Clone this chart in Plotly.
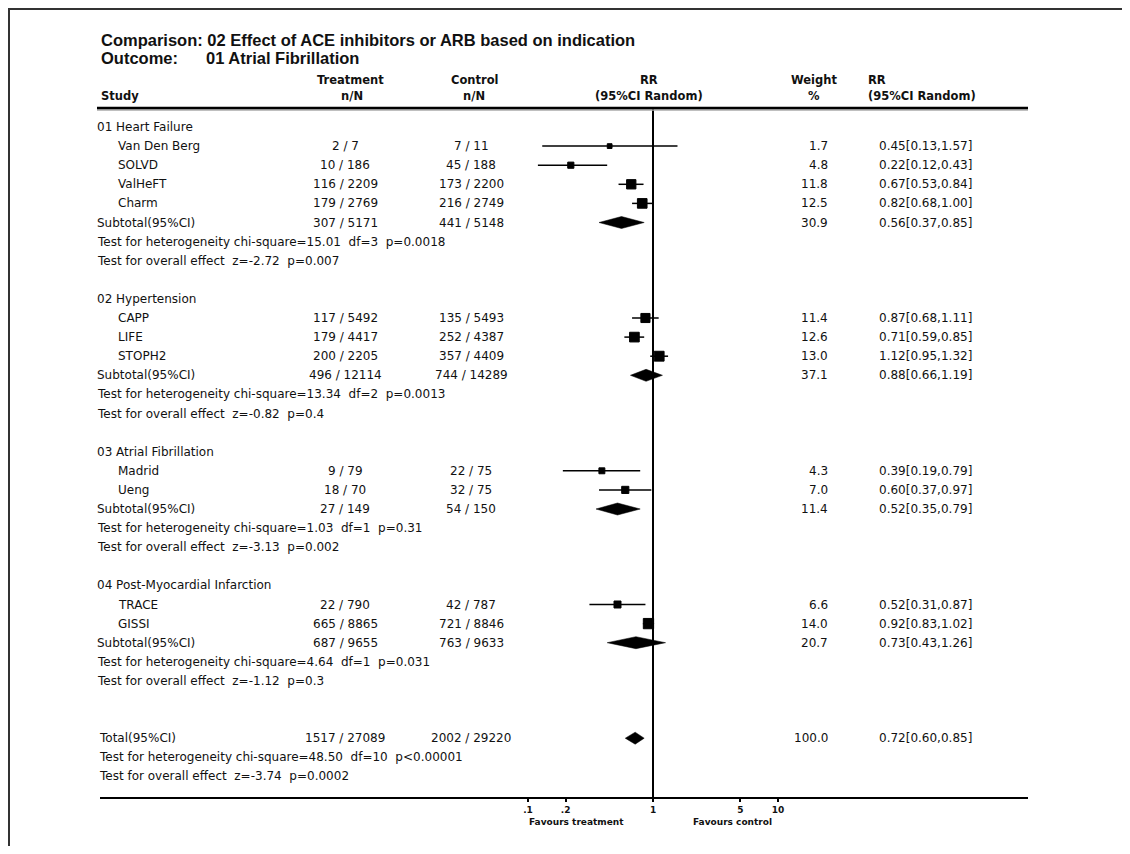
import math
import plotly.graph_objects as go

# ---------------- data ----------------
group_names = ["01 Heart Failure", "02 Hypertension", "03 Atrial Fibrillation",
               "04 Post-Myocardial Infarction"]

study_group = [0, 0, 0, 0, 1, 1, 1, 2, 2, 3, 3]
study_names = ["Van Den Berg", "SOLVD", "ValHeFT", "Charm", "CAPP", "LIFE", "STOPH2",
               "Madrid", "Ueng", "TRACE", "GISSI"]
treat_events = [2, 10, 116, 179, 117, 179, 200, 9, 18, 22, 665]
treat_total = [7, 186, 2209, 2769, 5492, 4417, 2205, 79, 70, 790, 8865]
ctrl_events = [7, 45, 173, 216, 135, 252, 357, 22, 32, 42, 721]
ctrl_total = [11, 188, 2200, 2749, 5493, 4387, 4409, 75, 75, 787, 8846]
study_weight = [1.7, 4.8, 11.8, 12.5, 11.4, 12.6, 13.0, 4.3, 7.0, 6.6, 14.0]
study_rr = [0.45, 0.22, 0.67, 0.82, 0.87, 0.71, 1.12, 0.39, 0.60, 0.52, 0.92]
study_lo = [0.13, 0.12, 0.53, 0.68, 0.68, 0.59, 0.95, 0.19, 0.37, 0.31, 0.83]
study_hi = [1.57, 0.43, 0.84, 1.00, 1.11, 0.85, 1.32, 0.79, 0.97, 0.87, 1.02]

sub_treat_events = [307, 496, 27, 687]
sub_treat_total = [5171, 12114, 149, 9655]
sub_ctrl_events = [441, 744, 54, 763]
sub_ctrl_total = [5148, 14289, 150, 9633]
sub_weight = [30.9, 37.1, 11.4, 20.7]
sub_rr = [0.56, 0.88, 0.52, 0.73]
sub_lo = [0.37, 0.66, 0.35, 0.43]
sub_hi = [0.85, 1.19, 0.79, 1.26]
het_chi = ["15.01", "13.34", "1.03", "4.64"]
het_df = [3, 2, 1, 1]
het_p = ["p=0.0018", "p=0.0013", "p=0.31", "p=0.031"]
eff_z = ["-2.72", "-0.82", "-3.13", "-1.12"]
eff_p = ["0.007", "0.4", "0.002", "0.3"]

total_treat = (1517, 27089)
total_ctrl = (2002, 29220)
total_weight = 100.0
total_rr, total_lo, total_hi = 0.72, 0.60, 0.85
total_het = ("48.50", 10, "p<0.00001")
total_eff = ("-3.74", "0.0002")

tick_vals = [0.1, 0.2, 1, 5, 10]
tick_text = [".1", ".2", "1", "5", "10"]

# ---------------- layout helpers ----------------
W, H = 1114, 838
OX, OY = 8, 8
def px(X):
    return (X - OX) / W
def py(Y):
    return 1 - (Y - OY) / H

ROW0, ROWH = 127.0, 19.1
X_CENTER, PX_DEC = 653.0, 125.0
AX_L, AX_R = 100, 1028
AX_TOP, AX_BOT = 108, 797

FONT = "DejaVu Sans"
FS = 12
BLACK = "#000000"
TXT = "#111111"

annotations = []
def txt(X, r, s, anchor="left", size=FS, bold=False, yref="y", Y=None, family=FONT):
    annotations.append(dict(
        x=px(X), xref="paper",
        y=(r if yref == "y" else py(Y)), yref=yref,
        text=s, showarrow=False, xanchor=anchor, yanchor="middle",
        font=dict(family=family, size=size, color=TXT, weight=("bold" if bold else "normal")),
        borderpad=0,
    ))

X_GROUP, X_STUDY = 96, 117
X_TREAT, X_CTRL = 345, 471
X_WEIGHT, X_RR = 829, 878

fig = go.Figure()

ci_x, ci_y = [], []
sq_x, sq_y, sq_s = [], [], []
diamonds = []

r = 0
for g in range(len(group_names)):
    txt(X_GROUP, r, group_names[g])
    r += 1
    for i in range(len(study_names)):
        if study_group[i] != g:
            continue
        txt(X_STUDY, r, study_names[i])
        txt(X_TREAT, r, f"{treat_events[i]} / {treat_total[i]}", "center")
        txt(X_CTRL, r, f"{ctrl_events[i]} / {ctrl_total[i]}", "center")
        txt(X_WEIGHT, r, f"{study_weight[i]:.1f}", "right")
        txt(X_RR, r, f"{study_rr[i]:.2f}[{study_lo[i]:.2f},{study_hi[i]:.2f}]")
        ci_x += [study_lo[i], study_hi[i], None]
        ci_y += [r, r, None]
        sq_x.append(study_rr[i]); sq_y.append(r); sq_s.append(4 + 0.45 * study_weight[i])
        r += 1
    txt(X_GROUP, r, "Subtotal(95%CI)")
    txt(X_TREAT, r, f"{sub_treat_events[g]} / {sub_treat_total[g]}", "center")
    txt(X_CTRL, r, f"{sub_ctrl_events[g]} / {sub_ctrl_total[g]}", "center")
    txt(X_WEIGHT, r, f"{sub_weight[g]:.1f}", "right")
    txt(X_RR, r, f"{sub_rr[g]:.2f}[{sub_lo[g]:.2f},{sub_hi[g]:.2f}]")
    diamonds.append((sub_rr[g], sub_lo[g], sub_hi[g], r))
    r += 1
    txt(X_GROUP, r, f"Test for heterogeneity chi-square={het_chi[g]}  df={het_df[g]}  {het_p[g]}")
    r += 1
    txt(X_GROUP, r, f"Test for overall effect  z={eff_z[g]}  p={eff_p[g]}")
    r += 2
r += 1
txt(X_GROUP + 2, r, "Total(95%CI)")
txt(X_TREAT, r, f"{total_treat[0]} / {total_treat[1]}", "center")
txt(X_CTRL, r, f"{total_ctrl[0]} / {total_ctrl[1]}", "center")
txt(X_WEIGHT, r, f"{total_weight:.1f}", "right")
txt(X_RR, r, f"{total_rr:.2f}[{total_lo:.2f},{total_hi:.2f}]")
diamonds.append((total_rr, total_lo, total_hi, r))
r += 1
txt(X_GROUP + 2, r, f"Test for heterogeneity chi-square={total_het[0]}  df={total_het[1]}  {total_het[2]}")
r += 1
txt(X_GROUP + 2, r, f"Test for overall effect  z={total_eff[0]}  p={total_eff[1]}")

# CI lines
fig.add_trace(go.Scatter(x=ci_x, y=ci_y, mode="lines",
                         line=dict(color=BLACK, width=1.5), hoverinfo="skip", showlegend=False))
# boxes
fig.add_trace(go.Scatter(x=sq_x, y=sq_y, mode="markers", opacity=1,
                         marker=dict(symbol="square", size=sq_s, color=BLACK, opacity=1,
                                     line=dict(width=1, color=BLACK)),
                         showlegend=False))
# diamonds
hh = 6.0 / ROWH
for est, lo, hi, rr in diamonds:
    fig.add_trace(go.Scatter(x=[lo, est, hi, est, lo], y=[rr, rr - hh, rr, rr + hh, rr],
                             mode="lines", fill="toself", fillcolor=BLACK,
                             line=dict(color=BLACK, width=0.5), showlegend=False,
                             hoverinfo="skip"))

# header texts
HB = 11.5
TF = "Liberation Sans"
txt(100, None, "Comparison: 02 Effect of ACE inhibitors or ARB based on indication",
    size=16.5, bold=True, yref="paper", Y=40, family=TF)
txt(100, None, "Outcome:", size=16.5, bold=True, yref="paper", Y=58, family=TF)
txt(205, None, "01 Atrial Fibrillation", size=16.5, bold=True, yref="paper", Y=58, family=TF)
txt(350, None, "Treatment", "center", HB, True, "paper", 80)
txt(352, None, "n/N", "center", HB, True, "paper", 96)
txt(475, None, "Control", "center", HB, True, "paper", 80)
txt(474, None, "n/N", "center", HB, True, "paper", 96)
txt(100, None, "Study", "left", HB, True, "paper", 96)
txt(649, None, "RR", "center", HB, True, "paper", 80)
txt(649, None, "(95%CI Random)", "center", HB, True, "paper", 96)
txt(814, None, "Weight", "center", HB, True, "paper", 80)
txt(814, None, "%", "center", HB, True, "paper", 96)
txt(867, None, "RR", "left", HB, True, "paper", 80)
txt(867, None, "(95%CI Random)", "left", HB, True, "paper", 96)
txt(576, None, "Favours treatment", "center", 9, True, "paper", 822)
txt(732, None, "Favours control", "center", 9, True, "paper", 822)

shapes = [
    # frame
    dict(type="line", xref="paper", yref="paper", x0=0, x1=1, y0=py(9), y1=py(9),
         line=dict(color="#333333", width=2)),
    dict(type="line", xref="paper", yref="paper", x0=px(9), x1=px(9), y0=0, y1=py(9),
         line=dict(color="#333333", width=2)),
    # header rule (with light shadow)
    dict(type="line", xref="paper", yref="paper", x0=px(97), x1=px(AX_R), y0=py(AX_TOP + 2), y1=py(AX_TOP + 2),
         line=dict(color="#aaaaaa", width=1.5)),
    dict(type="line", xref="paper", yref="paper", x0=px(97), x1=px(AX_R), y0=py(AX_TOP), y1=py(AX_TOP),
         line=dict(color=BLACK, width=2.5)),
    # line of no effect
    dict(type="line", xref="x", yref="paper", x0=1, x1=1, y0=py(AX_BOT), y1=py(AX_TOP),
         line=dict(color=BLACK, width=2), layer="below"),
]

y_lo = (AX_BOT - ROW0) / ROWH
y_hi = (AX_TOP - ROW0) / ROWH

fig.update_layout(
    width=W, height=H, autosize=False,
    margin=dict(l=0, r=0, t=0, b=0),
    paper_bgcolor="white", plot_bgcolor="white",
    showlegend=False,
    annotations=annotations,
    shapes=shapes,
    xaxis=dict(type="log", domain=[px(AX_L), px(AX_R)],
               range=[(AX_L - X_CENTER) / PX_DEC, (AX_R - X_CENTER) / PX_DEC],
               tickvals=tick_vals, ticktext=tick_text,
               ticks="outside", ticklen=3, tickwidth=1.5, tickcolor=BLACK,
               tickfont=dict(family=FONT, size=9, color=TXT, weight="bold"),
               showline=True, linecolor=BLACK, linewidth=2,
               showgrid=False, zeroline=False, fixedrange=True),
    yaxis=dict(domain=[py(AX_BOT), py(AX_TOP)], range=[y_lo, y_hi],
               visible=False, showgrid=False, zeroline=False, fixedrange=True),
)

fig.write_html("out.html")
